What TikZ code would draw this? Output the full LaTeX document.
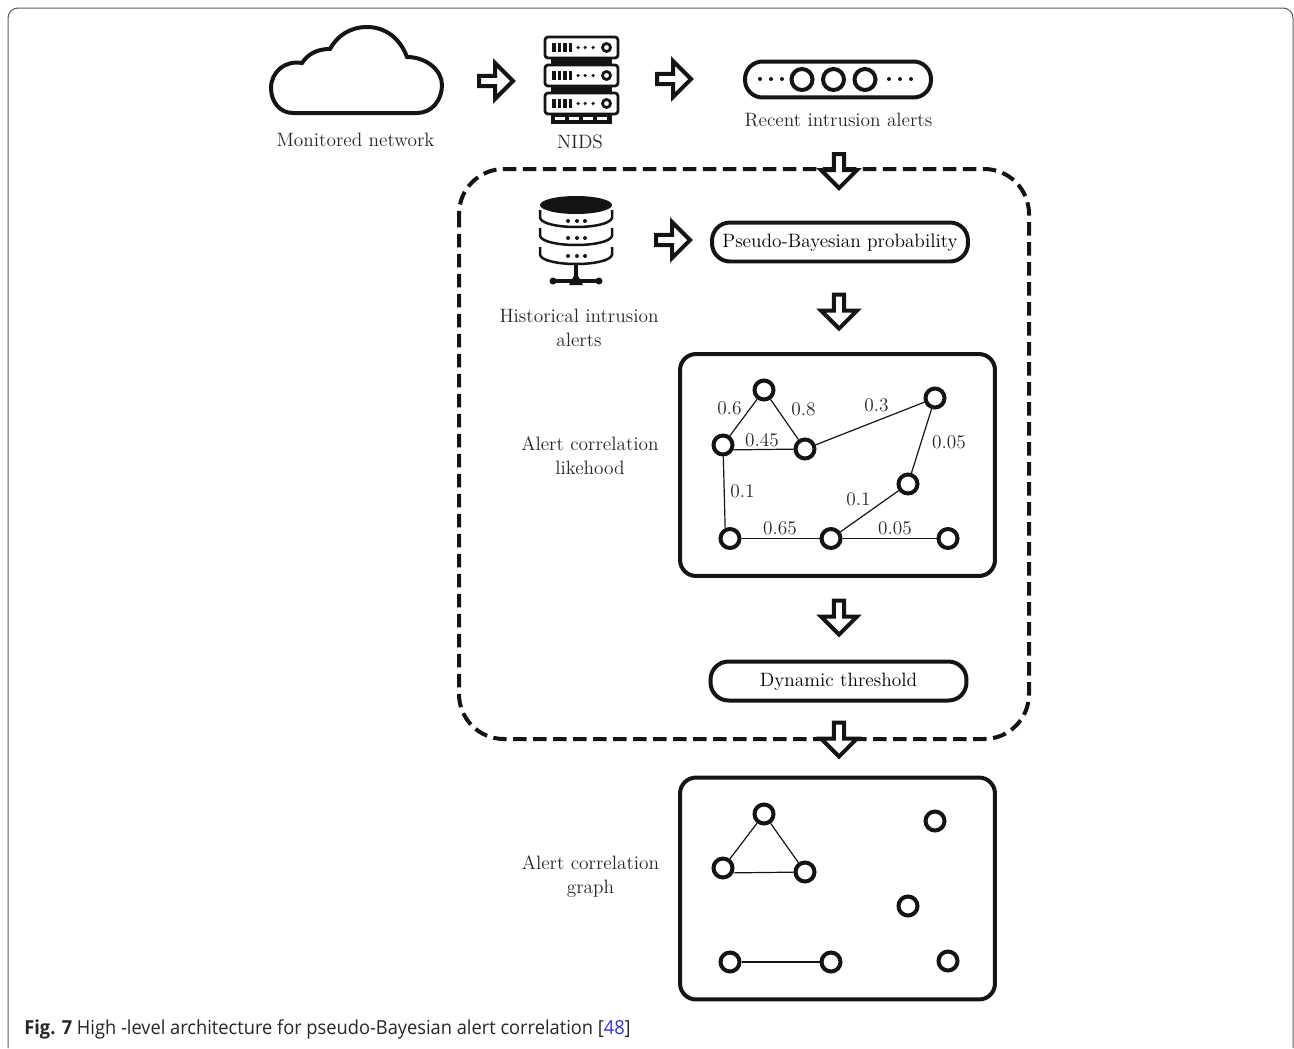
\documentclass[tikz,border=0pt]{standalone}
\usepackage{xcolor}
\usepackage{fontspec}
\usetikzlibrary{shapes.arrows, positioning}
\newfontfamily\capfont[FakeStretch=0.945]{Open Sans}
\definecolor{inkblack}{RGB}{20,20,20}
\definecolor{refblue}{RGB}{50,50,200}
\definecolor{framegray}{RGB}{90,90,90}

\begin{document}
\begin{tikzpicture}[
    x=0.02cm, y=-0.02cm,
    icon/.style={draw=inkblack, line width=0.08cm},
    thinline/.style={draw=inkblack, line width=0.024cm},
    blockright/.style={single arrow, draw=inkblack, fill=white, line width=0.08cm, minimum height=0.68cm, minimum width=0.72cm, single arrow head extend=0.1cm, single arrow tip angle=90, single arrow head indent=0cm, inner sep=0pt},
    blockdown/.style={blockright, shape border rotate=270},
    pill/.style={rectangle, icon, rounded corners=0.36cm, minimum width=5.12cm, minimum height=0.78cm, text height=0.3cm, text depth=0.07cm, font=\fontsize{11}{13}\selectfont},
    panel/.style={rectangle, icon, rounded corners=0.32cm, minimum width=6.3cm, minimum height=4.44cm},
    vertex/.style={circle, icon, fill=white, minimum size=0.38cm, inner sep=0pt},
    caption/.style={font=\fontsize{11}{13}\selectfont, align=center, text=black!85},
    weight/.style={font=\fontsize{11}{13}\selectfont, text=black!85, inner sep=1pt}
]
    \useasboundingbox (0,0) rectangle (1294,1048);

    % Frame
    \draw[framegray, line width=0.02cm, rounded corners=0.2cm] (8,1048) -- (8,8) -- (1293,8) -- (1293,1048);

    % Cloud
    \draw[icon] (293,113) -- (417,113) .. controls (432,113) and (442,100) .. (442,85)
        .. controls (442,70) and (426,57) .. (407,57)
        .. controls (400,38) and (385,27) .. (367,27)
        .. controls (350,27) and (337,36) .. (330,49)
        .. controls (317,49) and (308,54) .. (302,63)
        .. controls (285,60) and (271,72) .. (271,88)
        .. controls (271,102) and (280,113) .. (293,113) -- cycle;
    \node[caption] (cloudtext) at (355.5,140) {Monitored network};

    % NIDS
    \foreach \y in {37,65,93} {
        \draw[draw=inkblack, line width=0.055cm, rounded corners=0.06cm] (545,\y) rectangle (618,\y+21);
        \foreach \x in {552,557.5,563,568.5} \fill[inkblack] (\x,\y+6) rectangle (\x+3.5,\y+15);
        \foreach \x in {578,585,593} \fill[inkblack] (\x,\y+10.5) circle (0.035cm);
        \draw[draw=inkblack, line width=0.055cm] (606.5,\y+10.5) circle (0.08cm);
    }
    \fill[inkblack] (551,58) rectangle (612,65);
    \fill[inkblack] (551,86) rectangle (612,93);
    \fill[inkblack] (551,114) rectangle (612,124);
    \foreach \x in {555,569,583,597} \fill[white] (\x,116.5) rectangle (\x+10,120);
    \node[caption] (nidstext) at (580,142) {NIDS};

    % Recent alerts
    \node[rectangle, icon, rounded corners=0.35cm, minimum width=3.72cm, minimum height=0.72cm] (recent) at (838,79.5) {};
    \node[vertex, minimum size=0.42cm] (r1) at (802,79.5) {};
    \node[vertex, minimum size=0.42cm] (r2) at (833.5,79.5) {};
    \node[vertex, minimum size=0.42cm] (r3) at (865,79.5) {};
    \foreach \x in {760,771,782,889,900,911} \fill[inkblack] (\x,79) circle (0.04cm);
    \node[caption] (recenttext) at (838.5,120) {Recent intrusion alerts};

    % Dashed container
    \draw[draw=inkblack, line width=0.08cm, dash pattern=on 0.27cm off 0.13cm, rounded corners=0.9cm] (459,169) rectangle (1029,739);

    % Database
    \fill[inkblack] (576,205) ellipse [x radius=36, y radius=9];
    \foreach \y in {210,228,247} {
        \draw[draw=inkblack, line width=0.05cm] (540,\y) -- (540,\y+8) .. controls (544,\y+20) and (608,\y+20) .. (612,\y+8) -- (612,\y);
    }
    \foreach \y in {221,238,256} \foreach \x in {568,577,585} \fill[inkblack] (\x,\y) circle (0.04cm);
    \draw[draw=inkblack, line width=0.07cm] (576,265) -- (576,281);
    \draw[draw=inkblack, line width=0.07cm] (553,281) -- (599,281);
    \fill[inkblack] (553,281) circle (0.07cm);
    \fill[inkblack] (599,281) circle (0.07cm);
    \fill[inkblack] (576,272) -- (583,285) -- (569,285) -- cycle;
    \node[caption] (histtext) at (579,327.5) {Historical intrusion\\[0.6pt]alerts};

    % Boxes
    \node[pill] (pseudo) at (840,242) {Pseudo-Bayesian probability};
    \node[pill] (thresh) at (838.5,681) {Dynamic threshold};
    \node[panel] (likebox) at (837.5,465) {};
    \node[panel] (graphbox) at (837.5,888.5) {};
    \node[caption] (liketext) at (590,456) {Alert correlation\\[0.6pt]likehood};
    \node[caption] (graphtext) at (590.5,877) {Alert correlation\\[0.6pt]graph};

    % Block arrows
    \node[blockright] (arr1) at (493.5,81) {};
    \node[blockright] (arr2) at (671.5,79) {};
    \node[blockdown] (arr3) at (839,168.5) {};
    \node[blockright] (arr4) at (670.5,240) {};
    \node[blockdown] (arr5) at (839,309) {};
    \node[blockdown] (arr6) at (839,615) {};
    \node[blockdown] (arr7) at (839,737) {};

    % Likelihood graph
    \node[vertex] (a1) at (764,390) {};
    \node[vertex] (b1) at (723,445) {};
    \node[vertex] (c1) at (805,449) {};
    \node[vertex] (d1) at (935,398) {};
    \node[vertex] (e1) at (908,484) {};
    \node[vertex] (f1) at (730,538.5) {};
    \node[vertex] (g1) at (831,538.5) {};
    \node[vertex] (h1) at (948,538.5) {};
    \draw[thinline] (a1) -- (b1);
    \draw[thinline] (a1) -- (c1);
    \draw[thinline] (b1.-25) -- (c1);
    \draw[thinline] (c1) -- (d1);
    \draw[thinline] (d1) -- (e1);
    \draw[thinline] (e1) -- (g1);
    \draw[thinline] (b1) -- (f1.115);
    \draw[thinline] (f1) -- (g1);
    \draw[thinline] (g1) -- (h1);
    \node[weight] (w1) at (729.5,408) {0.6};
    \node[weight] (w2) at (803.5,409) {0.8};
    \node[weight] (w3) at (762,440) {0.45};
    \node[weight] (w4) at (876.5,405) {0.3};
    \node[weight] (w5) at (949,442) {0.05};
    \node[weight] (w6) at (742.5,491) {0.1};
    \node[weight] (w7) at (858.5,499) {0.1};
    \node[weight] (w8) at (780,528) {0.65};
    \node[weight] (w9) at (895,528) {0.05};

    % Result graph
    \node[vertex] (a2) at (764,814) {};
    \node[vertex] (b2) at (723,868) {};
    \node[vertex] (c2) at (805,872) {};
    \node[vertex] (d2) at (935,821) {};
    \node[vertex] (e2) at (908,906) {};
    \node[vertex] (f2) at (730,962) {};
    \node[vertex] (g2) at (831,962) {};
    \node[vertex] (h2) at (948,961) {};
    \draw[thinline] (a2) -- (b2);
    \draw[thinline] (a2) -- (c2);
    \draw[thinline] (b2.-25) -- (c2);
    \draw[thinline] (f2) -- (g2);

    % Caption
    \node[anchor=west, inner sep=0pt, text=black!85, font=\capfont\fontsize{11}{13}\selectfont] (figcap) at (24,1029) {\textbf{Fig. 7} High -level architecture for pseudo-Bayesian alert correlation [\textcolor{refblue}{48}]};
\end{tikzpicture}
\end{document}
